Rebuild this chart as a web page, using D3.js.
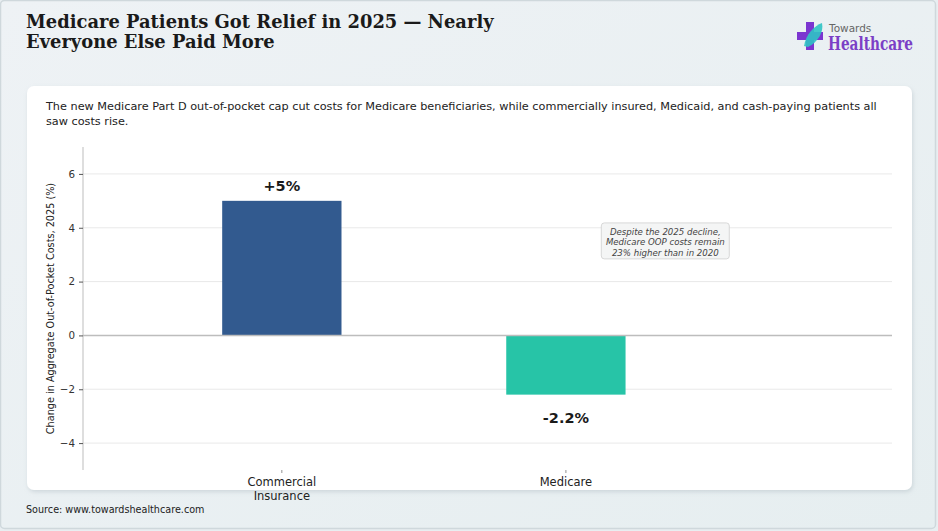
<!DOCTYPE html>
<html>
<head>
<meta charset="utf-8">
<script src="https://cdn.jsdelivr.net/npm/d3@7"></script>
<style>
html,body{margin:0;padding:0;background:#e8eef1;}
svg{display:block;}
</style>
</head>
<body>
<svg id="chart" width="938" height="531"></svg>
<script>
const categories = ["Commercial Insurance", "Medicare"];
const categoryLines = [["Commercial", "Insurance"], ["Medicare"]];
const values = [5, -2.2];
const valueLabels = ["+5%", "-2.2%"];
const barColors = ["#325a8f", "#27c4a7"];
const yTicks = [-4, -2, 0, 2, 4, 6];
const annotationLines = ["Despite the 2025 decline,", "Medicare OOP costs remain", "23% higher than in 2020"];

const svg = d3.select("#chart");
const W = 938, H = 531;

// background
const defs = svg.append("defs");
const bg = defs.append("linearGradient").attr("id","bg").attr("x1","0").attr("x2","1").attr("y1","0").attr("y2","1");
bg.append("stop").attr("offset","0").attr("stop-color","#eef2f5");
bg.append("stop").attr("offset","1").attr("stop-color","#e6eef0");
const sh = defs.append("filter").attr("id","shadow").attr("x","-5%").attr("y","-5%").attr("width","110%").attr("height","115%");
sh.append("feDropShadow").attr("dx",1).attr("dy",2).attr("stdDeviation",2).attr("flood-color","#9aa8b0").attr("flood-opacity",0.35);

svg.append("rect").attr("x",0.5).attr("y",0.5).attr("width",W-3).attr("height",H-3).attr("rx",4)
  .attr("fill","url(#bg)").attr("stroke","#cfd8dc").attr("stroke-width",1.5);

// title
const title = svg.append("text").attr("x",26).attr("font-family","DejaVu Serif").attr("font-weight","bold")
  .attr("font-size",17.9).attr("fill","#1a1a1a");
title.append("tspan").attr("x",26).attr("y",28).text("Medicare Patients Got Relief in 2025 \u2014 Nearly");
title.append("tspan").attr("x",26).attr("y",48).text("Everyone Else Paid More");

// logo
const logo = svg.append("g");
logo.append("rect").attr("x",806).attr("y",22).attr("width",8).attr("height",28).attr("fill","#7b35d0");
logo.append("rect").attr("x",797).attr("y",32).attr("width",26).attr("height",8).attr("fill","#7b35d0");
logo.append("path").attr("d","M804,46 C806,34 814,26 822,23 C824,32 818,42 808,47 Z").attr("fill","#2fc3c4").attr("opacity",0.9);
logo.append("text").attr("x",829).attr("y",32).attr("font-family","DejaVu Sans").attr("font-size",10.5)
  .attr("fill","#666").text("Towards");
logo.append("text").attr("transform","translate(828,50) scale(0.76,1)").attr("font-family","DejaVu Serif").attr("font-weight","bold")
  .attr("font-size",18).attr("fill","#7b3fc6").text("Healthcare");

// card
svg.append("rect").attr("x",27).attr("y",86).attr("width",885).attr("height",404).attr("rx",7)
  .attr("fill","#ffffff").attr("filter","url(#shadow)");

// subtitle
const sub = svg.append("text").attr("font-family","DejaVu Sans").attr("font-size",11.25).attr("fill","#222");
sub.append("tspan").attr("x",46).attr("y",110).text("The new Medicare Part D out-of-pocket cap cut costs for Medicare beneficiaries, while commercially insured, Medicaid, and cash-paying patients all");
sub.append("tspan").attr("x",46).attr("y",125).text("saw costs rise.");

// scales
const plotL = 83, plotR = 892, plotT = 147, plotB = 470;
const x = d3.scaleLinear().domain([-0.7, 2.148]).range([plotL, plotR]);
const y = d3.scaleLinear().domain([-5, 7]).range([plotB, plotT]);
const barW = 0.42;

// gridlines
svg.append("g").selectAll("line").data(yTicks.filter(d=>d!==0)).join("line")
  .attr("x1",plotL).attr("x2",plotR).attr("y1",d=>y(d)).attr("y2",d=>y(d))
  .attr("stroke","#e6e6e6").attr("stroke-width",0.9);

// bars
svg.append("g").selectAll("rect").data(values).join("rect")
  .attr("x",(d,i)=>x(i-barW/2)).attr("width",x(barW)-x(0))
  .attr("y",d=>y(Math.max(0,d))).attr("height",d=>Math.abs(y(d)-y(0)))
  .attr("fill",(d,i)=>barColors[i]);

// zero line
svg.append("line").attr("x1",plotL).attr("x2",plotR).attr("y1",y(0)).attr("y2",y(0))
  .attr("stroke","#bdbdbd").attr("stroke-width",1.5);

// value labels
svg.append("g").selectAll("text").data(values).join("text")
  .attr("x",(d,i)=>x(i)).attr("y",d=>d>=0 ? y(d)-10 : y(d)+28)
  .attr("text-anchor","middle").attr("font-family","DejaVu Sans").attr("font-weight","bold")
  .attr("font-size",14.5).attr("fill","#1a1a1a").text((d,i)=>valueLabels[i]);

// y axis
const yAxis = d3.axisLeft(y).tickValues(yTicks).tickSize(4).tickPadding(4).tickFormat(d=>d<0?"\u2212"+Math.abs(d):d);
const ya = svg.append("g").attr("transform",`translate(${plotL},0)`).call(yAxis);
ya.select(".domain").attr("stroke","#bdbdbd").attr("stroke-width",1).attr("d",`M0,${plotT}V${plotB}`);
ya.selectAll(".tick line").attr("stroke","#555");
ya.selectAll(".tick text").attr("font-family","DejaVu Sans").attr("font-size",10.3).attr("fill","#333");

// y axis title
svg.append("text").attr("transform",`translate(54,${(plotT+plotB)/2}) rotate(-90)`)
  .attr("text-anchor","middle").attr("font-family","DejaVu Sans").attr("font-size",9.7).attr("fill","#222")
  .text("Change in Aggregate Out-of-Pocket Costs, 2025 (%)");

// x axis
const xa = svg.append("g");
xa.selectAll("line").data(categories).join("line")
  .attr("x1",(d,i)=>x(i)).attr("x2",(d,i)=>x(i)).attr("y1",plotB).attr("y2",plotB+3)
  .attr("stroke","#777").attr("stroke-width",0.8);
xa.selectAll("text").data(categories).join("text")
  .attr("text-anchor","middle").attr("font-family","DejaVu Sans").attr("font-size",11.5).attr("fill","#222")
  .each(function(d,i){
    const t = d3.select(this);
    categoryLines[i].forEach((ln,j)=>t.append("tspan").attr("x",x(i)).attr("y",plotB+16+j*14).text(ln));
  });

// annotation
const ax = x(1.35), ay = y(3.4);
const ann = svg.append("g");
ann.append("rect").attr("x",ax-64).attr("y",ay-21).attr("width",128).attr("height",36).attr("rx",3)
  .attr("fill","#f4f5f5").attr("stroke","#cfcfcf").attr("stroke-width",0.8);
ann.append("text").attr("text-anchor","middle").attr("font-family","DejaVu Sans").attr("font-style","italic")
  .attr("font-size",8.6).attr("fill","#444")
  .selectAll("tspan").data(annotationLines).join("tspan")
  .attr("x",ax).attr("y",(d,i)=>ay-9+i*10.5).text(d=>d);

// source
svg.append("text").attr("x",26).attr("y",513).attr("font-family","DejaVu Sans").attr("font-size",9.65)
  .attr("fill","#222").text("Source: www.towardshealthcare.com");
</script>
</body>
</html>
